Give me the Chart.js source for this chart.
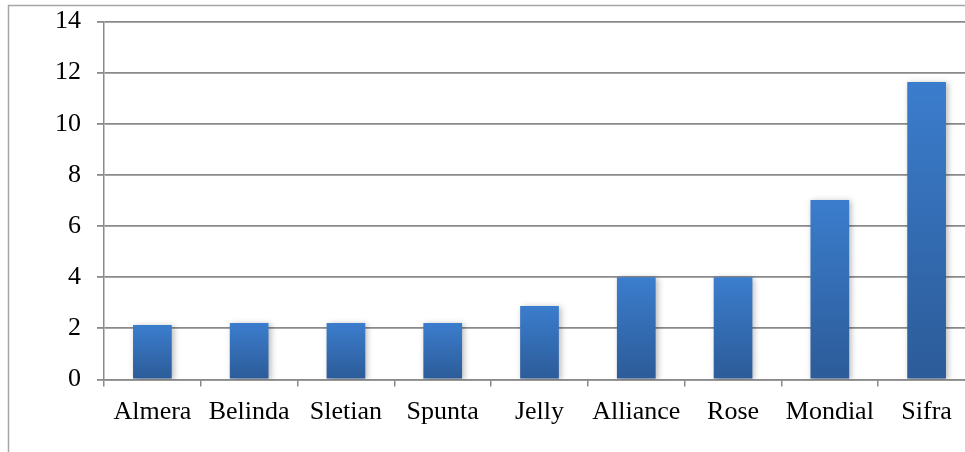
<!DOCTYPE html>
<html>
<head>
<meta charset="utf-8">
<script src="https://cdn.jsdelivr.net/npm/chart.js@4/dist/chart.umd.min.js"></script>
<style>
  html, body { margin: 0; padding: 0; background: #fff; overflow: hidden; width: 965px; height: 452px; }
  canvas { display: block; }
</style>
</head>
<body>
<canvas id="chart" width="990" height="452"></canvas>
<script>
// Potato varieties and their values
const varieties = ['Almera', 'Belinda', 'Sletian', 'Spunta', 'Jelly', 'Alliance', 'Rose', 'Mondial', 'Sifra'];
const values = [2.13, 2.21, 2.21, 2.21, 2.87, 4.0, 4.0, 7.02, 11.63];
const yTicks = [0, 2, 4, 6, 8, 10, 12, 14];

const ctx = document.getElementById('chart').getContext('2d');

// Outer frame around the whole chart
const framePlugin = {
  id: 'frame',
  beforeDraw(chart) {
    const c = chart.ctx;
    c.save();
    c.strokeStyle = '#a6a6a6';
    c.lineWidth = 1.5;
    c.strokeRect(8.5, 5.5, chart.width + 20, chart.height + 20);
    c.restore();
  }
};

// Soft shadow behind bars
const shadowPlugin = {
  id: 'barShadow',
  beforeDatasetsDraw(chart) {
    const c = chart.ctx;
    c.save();
    c.shadowColor = 'rgba(0,0,0,0.28)';
    c.shadowBlur = 6;
    c.shadowOffsetX = 2;
    c.shadowOffsetY = 1;
  },
  afterDatasetsDraw(chart) {
    chart.ctx.restore();
  }
};

function barGradient(context) {
  const chart = context.chart;
  const y = chart.scales.y;
  if (!chart.chartArea || !y || context.raw == null) return '#3470b8';
  const top = y.getPixelForValue(context.raw);
  const bottom = y.getPixelForValue(0);
  const g = chart.ctx.createLinearGradient(0, top, 0, bottom);
  g.addColorStop(0, '#3b7dcd');
  g.addColorStop(1, '#2c5b98');
  return g;
}

const serif = "'Liberation Serif', 'Times New Roman', serif";

new Chart(ctx, {
  type: 'bar',
  data: {
    labels: varieties,
    datasets: [{
      data: values,
      backgroundColor: barGradient,
      borderWidth: 0,
      categoryPercentage: 1,
      barPercentage: 0.4
    }]
  },
  options: {
    responsive: false,
    animation: false,
    devicePixelRatio: 1,
    layout: { padding: { top: 21.5, right: 15, bottom: 0, left: 0 } },
    plugins: {
      legend: { display: false },
      tooltip: { enabled: false }
    },
    scales: {
      x: {
        grid: {
          display: true,
          drawOnChartArea: false,
          drawTicks: true,
          tickLength: 7,
          color: '#8a8a8a',
          lineWidth: 1.5
        },
        border: { display: true, color: '#8a8a8a', width: 1.5 },
        ticks: {
          color: '#000',
          font: { family: serif, size: 26 },
          padding: 10,
          maxRotation: 0,
          autoSkip: false
        },
        afterFit(scale) {
          scale.height = 72.5;
          scale.paddingLeft = 0;
          scale.paddingRight = 0;
        }
      },
      y: {
        min: 0,
        max: 14,
        afterBuildTicks(scale) { scale.ticks = yTicks.map(v => ({ value: v })); },
        grid: {
          color: '#8a8a8a',
          lineWidth: 1.8,
          tickLength: 7
        },
        border: { display: true, color: '#8a8a8a', width: 1.5 },
        ticks: {
          color: '#000',
          font: { family: serif, size: 26 },
          padding: 16
        },
        afterFit(scale) {
          scale.width = 104;
          // labels may overhang the plot edges; keep the plot where it is
          scale.paddingTop = 0;
          scale.paddingBottom = 0;
        }
      }
    }
  },
  plugins: [framePlugin, shadowPlugin]
});
</script>
</body>
</html>
